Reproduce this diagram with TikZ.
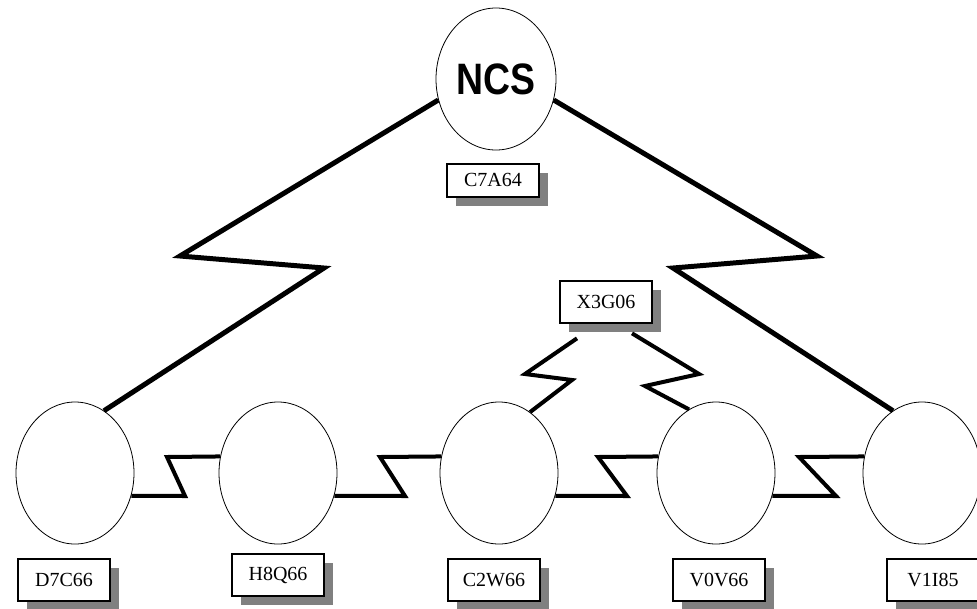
\documentclass[tikz,border=0pt]{standalone}
\usepackage{fontspec}
\setmainfont{Liberation Serif}
\newfontfamily\headfont{Liberation Sans}
\usetikzlibrary{shapes.geometric,shadows,calc}

\begin{document}
\begin{tikzpicture}[x=0.75pt,y=-0.75pt,
    site/.style={ellipse,draw,line width=0.6pt,minimum width=88.5pt,
      minimum height=106.5pt,inner sep=0pt},
    tag/.style={draw,line width=1.5pt,fill=white,minimum width=69pt,
      minimum height=32pt,inner sep=0pt,font=\fontsize{15}{18}\selectfont,
      drop shadow={shadow xshift=6.75pt,shadow yshift=-6.75pt,fill=gray,opacity=1}},
    link/.style={line width=3pt},
    trunk/.style={line width=3.75pt}]
  \clip (0,0) rectangle (977,608);

  \node[site,minimum width=90pt] (ncs) at (496,79)
    {\headfont\bfseries\fontsize{33}{33}\selectfont\scalebox{0.85}[1]{NCS}};
  \node[site] (d7c) at (75,473) {};
  \node[site] (h8q) at (278,473) {};
  \node[site] (c2w) at (499,473) {};
  \node[site] (v0v) at (716,473) {};
  \node[site] (v1i) at (922,473) {};

  \node[tag,minimum height=24.75pt] (c7a) at (493,180) {C7A64};
  \node[tag] (x3g) at (606,302) {X3G06};
  \node[tag] (d7ctag) at (64,580) {D7C66};
  \node[tag] (h8qtag) at (278,575) {H8Q66};
  \node[tag] (c2wtag) at (494,580) {C2W66};
  \node[tag] (v0vtag) at (719,580) {V0V66};
  \node[tag] (v1itag) at (933,580) {V1I85};

  \draw[trunk] (ncs.200) -- (180,256) -- (324,268) -- (d7c.65);
  \draw[trunk] (ncs.-20) -- (817,256) -- (673,268) -- (v1i.115);

  \draw[link] ($(x3g.south)+(-29,14)$) -- (525,374) -- (572,380) -- (c2w.63);
  \draw[link] ($(x3g.south)+(26,9)$) -- (699,374) -- (645,386) -- (v0v.113);

  \draw[link] (d7c.-22) -- (185,496) -- (167,457) -- (h8q.164);
  \draw[link] (h8q.-22) -- (405,496) -- (380,457) -- (c2w.164);
  \draw[link] (c2w.-22) -- (627,496) -- (598,457) -- (v0v.164);
  \draw[link] (v0v.-22) -- (836,496) -- (799,457) -- (v1i.164);
\end{tikzpicture}
\end{document}
